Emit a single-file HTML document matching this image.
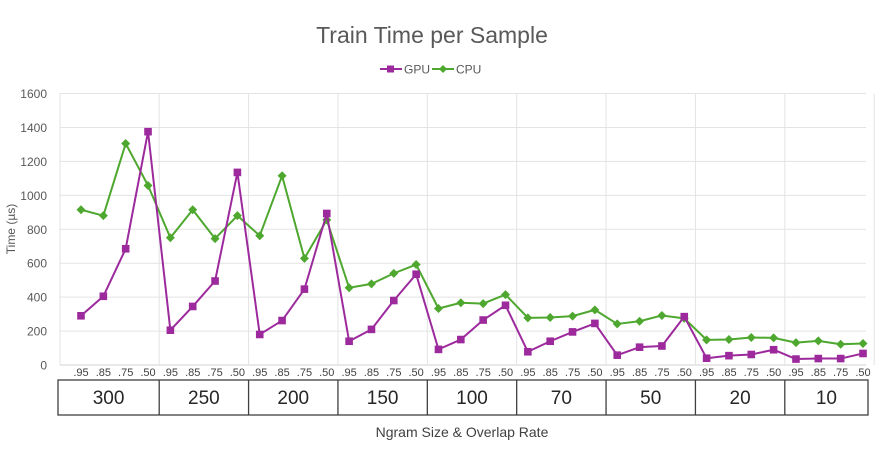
<!DOCTYPE html>
<html><head><meta charset="utf-8"><style>
body{margin:0;background:#fff;font-family:"Liberation Sans",sans-serif}
svg text{font-family:"Liberation Sans",sans-serif}
</style></head><body>
<svg width="886" height="447" xmlns="http://www.w3.org/2000/svg">
<text x="432" y="43" text-anchor="middle" font-size="23" fill="#595959">Train Time per Sample</text>
<g>
<g><line x1="380" y1="69" x2="402" y2="69" stroke="#9C2A9C" stroke-width="2"/><rect x="387" y="65.5" width="7" height="7" fill="#9C2A9C"/><text x="404" y="73.5" font-size="12" fill="#595959">GPU</text></g>
<g><line x1="432" y1="69" x2="454" y2="69" stroke="#4EA72E" stroke-width="2"/><path d="M443 65 L447 69 L443 73 L439 69Z" fill="#4EA72E"/><text x="456" y="73.5" font-size="12" fill="#595959">CPU</text></g>
</g>
<g id="grid"></g>
<g id="yaxis"></g>
<text transform="translate(15,229) rotate(-90)" text-anchor="middle" font-size="12" fill="#595959">Time (µs)</text>
<g id="series"></g>
<g id="xaxis"></g>
<text x="462" y="437" text-anchor="middle" font-size="14" fill="#404040">Ngram Size &amp; Overlap Rate</text>
</svg>
<script>
const groups=["300","250","200","150","100","70","50","20","10"];
const rates=[".95",".85",".75",".50"];
const yTicks=[0,200,400,600,800,1000,1200,1400,1600];
const gpu=[290,405,685,1375,205,345,495,1135,180,262,447,893,140,210,380,535,92,150,265,352,78,140,195,245,58,105,112,285,40,55,62,90,35,38,38,68];
const cpu=[915,880,1305,1058,750,915,745,880,762,1115,628,855,455,478,540,592,333,367,362,415,278,280,288,325,242,258,292,275,148,150,162,160,132,142,122,127];
const NS="http://www.w3.org/2000/svg";
const L=60,R=866,T=93.5,B=365,x0=81,x1=863;
const n=groups.length*rates.length;
const X=i=>x0+i*(x1-x0)/(n-1);
const Y=v=>B-(v/1600)*(B-T);
function mk(t,a,p){const e=document.createElementNS(NS,t);for(const k in a)e.setAttribute(k,a[k]);p.appendChild(e);return e;}
const grid=document.getElementById('grid'),ya=document.getElementById('yaxis'),xa=document.getElementById('xaxis'),se=document.getElementById('series');
yTicks.forEach(v=>{
 const l=mk('line',{x1:L,x2:R,y1:Y(v),y2:Y(v),stroke:v===0?'#d0d0d0':'#e3e3e3','stroke-width':1},grid);
 
 
 const t=mk('text',{x:47,y:Y(v)+4.5,'text-anchor':'end','font-size':12,fill:'#595959'},ya);t.textContent=v;
 
 
});
const step=(x1-x0)/(n-1);
mk('line',{x1:L,x2:L,y1:T,y2:B,stroke:'#e3e3e3'},grid);
for(let g=1;g<=groups.length;g++){
 const gx=X(g*4-0.5);
 const l=mk('line',{x1:gx,x2:gx,y1:T,y2:B,stroke:'#e3e3e3'},grid);
 
 
}
for(let i=0;i<n;i++){
 const t=mk('text',{x:X(i),y:376,'text-anchor':'middle','font-size':11,fill:'#404040'},xa);t.textContent=rates[i%4];
 
 
}
const tl=58,tr=868;
mk('rect',{x:tl,y:380,width:tr-tl,height:35,fill:'none',stroke:'#404040','stroke-width':1.3},xa);
groups.forEach((g,k)=>{
 const a=k===0?tl:X(k*4-0.5), b=k===groups.length-1?tr:X(k*4+3.5);
 if(k>0){const l=mk('line',{x1:a,x2:a,y1:380,y2:415,stroke:'#404040','stroke-width':1.3},xa);
 
 }
 const t=mk('text',{x:(a+b)/2,y:404,'text-anchor':'middle','font-size':19,fill:'#262626'},xa);t.textContent=g;
 
 
});
function draw(data,col,shape,name){
 const g=mk('g',{},se);
 
 
 const p=mk('polyline',{points:data.map((v,i)=>X(i)+','+Y(v)).join(' '),fill:'none',stroke:col,'stroke-width':2,'stroke-linejoin':'round'},g);
 
 
 data.forEach((v,i)=>{
  const x=X(i),y=Y(v);let m;
  if(shape==='sq')m=mk('rect',{x:x-3.8,y:y-3.8,width:7.6,height:7.6,fill:col},g);
  else m=mk('path',{d:`M${x} ${y-4.5}L${x+4.5} ${y}L${x} ${y+4.5}L${x-4.5} ${y}Z`,fill:col},g);
  
  
 });
}
draw(cpu,'#4EA72E','di','cpu');
draw(gpu,'#9C2A9C','sq','gpu');
</script>
</body></html>
